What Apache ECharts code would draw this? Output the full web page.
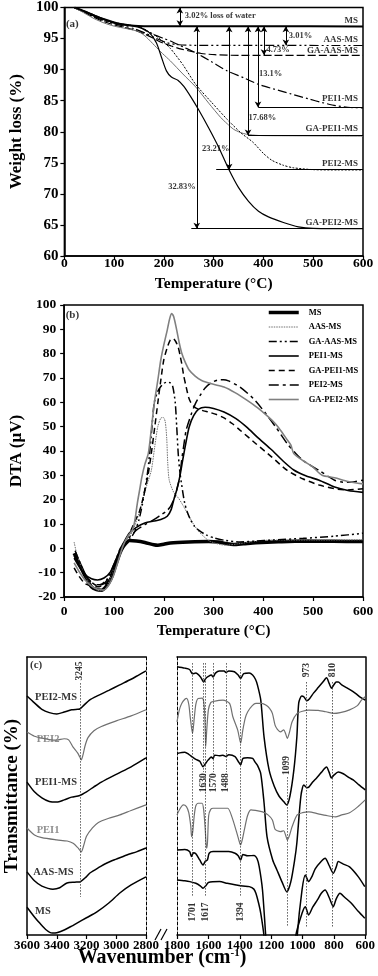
<!DOCTYPE html>
<html>
<head>
<meta charset="utf-8">
<script src="https://cdn.jsdelivr.net/npm/echarts@6.0.0/dist/echarts.min.js"></script>
<style>
  html, body { margin: 0; padding: 0; background: #fff; }
  #chart { width: 378px; height: 976px; }
</style>
</head>
<body>
<div id="chart"></div>
<script>
  var FONT = '"Liberation Serif", "Times New Roman", serif';

  // (a) TG curves, [temperature °C, weight %]
  var tgMS = [[20,100],[40,99.4],[60,98.7],[80,98.1],[100,97.6],[120,97.25],[140,97.05],[160,97],[250,96.98],[400,96.97],[600,96.96]];
  var tgAAS = [[20,100],[40,99.3],[60,98.5],[80,97.9],[100,97.4],[120,97],[140,96.6],[162,95.9],[185,95],[207,94.3],[230,94],[260,93.92],[350,93.9],[600,93.88]];
  var tgGAAAS = [[20,100],[40,99.2],[60,98.4],[80,97.7],[100,97.2],[120,96.8],[140,96.4],[162,95.7],[180,95],[194,94.4],[215,93.8],[235,93.3],[251,93],[275,92.6],[302,92.4],[350,92.3],[600,92.3]];
  var tgPEI1 = [[20,100],[40,99.3],[60,98.6],[80,98],[100,97.6],[125,97.2],[150,96.9],[165,96.2],[181,95.6],[200,95],[213,94.6],[240,93.6],[264,92.7],[295,91.3],[327,89.8],[360,88.7],[391,87.6],[420,86.9],[455,86.1],[490,85.3],[518,84.7],[545,84.2],[575,83.9],[600,83.85]];
  var tgGAPEI1 = [[20,100],[40,99.1],[60,98.2],[80,97.5],[100,97],[125,96.6],[150,96.1],[165,95.2],[181,93.9],[197,92.6],[213,91.4],[238,89.3],[264,87.2],[290,84.6],[314,82.3],[327,81.3],[340,80.4],[353,79.9],[366,79.6],[390,79.4],[450,79.35],[600,79.3]];
  var tgPEI2 = [[20,100],[40,99.3],[60,98.6],[80,98],[100,97.5],[125,97.2],[150,96.9],[165,96.3],[181,95.6],[197,94.6],[213,93.4],[238,90.8],[264,87.6],[295,84.8],[327,82],[355,79.8],[379,78.3],[400,76.5],[417,75.4],[440,74.6],[460,74.2],[500,73.9],[550,73.85],[600,73.85]];
  var tgGAPEI2 = [[20,100],[60,98.8],[100,97.5],[150,96.8],[170,96],[185,94.3],[195,92],[205,89.8],[215,88.8],[228,88.3],[240,87.3],[255,85.5],[270,83.5],[290,80.6],[310,77.5],[330,74],[350,71],[370,68.8],[390,67.2],[410,66.3],[440,65.4],[470,64.7],[500,64.45],[600,64.4]];

  // (a) annotations: mass-loss arrows and final levels
  var tgArrowT = [232, 445, 401, 389, 369, 331, 266];
  var tgArrowFrom = [100, 97, 97, 97, 97, 97, 97];
  var tgArrowTo = [97, 93.9, 92.3, 83.9, 79.4, 73.9, 64.4];
  var tgArrowText = ['3.02% loss of water', '3.01%', '4.73%', '13.1%', '17.68%', '23.21%', '32.83%'];
  var tgArrowTextAt = [[242, 98.6], [451, 95.5], [406, 93.2], [391, 89.4], [370, 82.2], [304, 77.3], [264, 71.2]];
  var tgArrowTextAlign = ['left', 'left', 'left', 'left', 'left', 'center', 'right'];
  var tgLevelFrom = [390, 369, 305, 255];
  var tgLevelY = [83.9, 79.4, 73.9, 64.4];
  var tgNames = ['MS', 'AAS-MS', 'GA-AAS-MS', 'PEI1-MS', 'GA-PEI1-MS', 'PEI2-MS', 'GA-PEI2-MS'];
  var tgNameY = [97.8, 94.9, 93.1, 85.3, 80.5, 74.9, 65.3];

  // (b) DTA curves, [temperature °C, µV]
  var dtaMS = [[20,-2],[30,-6],[40,-10.5],[55,-15.9],[65,-17],[75,-17.2],[85,-15.5],[95,-12],[105,-6],[112,-2],[118,0.5],[125,2.3],[131,3.2],[145,3],[162,2.4],[180,1.5],[188,1.3],[200,1.7],[213,2.2],[250,2.6],[290,2.8],[310,2.6],[325,2],[340,1.6],[360,1.9],[385,2.3],[430,2.7],[480,3],[540,2.9],[600,2.8]];
  var dtaAAS = [[20,2.6],[25,-2],[35,-8],[50,-14],[65,-17],[75,-17.5],[85,-16],[95,-11],[105,-4.5],[112,0],[120,2.5],[131,4.5],[145,11],[156,18.6],[166,26],[175,32],[182,42],[188,50],[194,53.5],[199,53.8],[203,52],[206,45],[208,35],[211,28],[220,23],[230,20.5],[239,17.5],[250,13.5],[258,10.5],[268,7.5],[277,5.5],[290,3.2],[302,2.2],[315,1.5],[327,1.3],[347,1.8],[380,2.8],[404,3.3],[450,3.4],[500,3.4],[600,3.5]];
  var dtaGAAAS = [[22,-1],[30,-5],[40,-10],[55,-14],[65,-15],[75,-14.7],[85,-13],[95,-9],[105,-4],[113,0],[122,2],[131,3.5],[142,7],[150,11.6],[157,18],[162,24],[168,32],[173,42],[178,54],[181,60],[188,64.5],[194,66.5],[200,67.8],[207,68.3],[213,68],[218,66.5],[223,60],[226,50],[229,39],[232,32],[236,26],[242,18.6],[248,14.5],[254,11.6],[262,9],[270,7.5],[285,5.5],[302,4.2],[325,3.2],[353,2.6],[385,3],[417,3.4],[480,4.1],[543,5],[600,6.2]];
  var dtaPEI1 = [[20,-4],[30,-7.5],[40,-10.5],[55,-12.5],[67,-13],[80,-12.2],[93,-9.7],[103,-5],[112,-1],[120,2.5],[131,6.3],[145,8.6],[162,10.4],[180,11.2],[194,11.8],[207,13.2],[215,16],[220,19.9],[226,24],[232,29.3],[238,36.3],[245,44],[251,49.9],[260,54.5],[270,57.2],[283,58],[300,57.5],[321,56],[345,53.3],[366,49.9],[390,45.3],[417,40.4],[440,35.8],[461,32.2],[485,29.8],[512,28],[543,25.2],[570,23.8],[600,23]];
  var dtaGAPEI1 = [[20,-8],[30,-11.5],[42,-14.5],[55,-15.5],[67,-15.8],[78,-15.2],[86,-14],[93,-11.5],[99,-7.6],[108,-3],[118,1.5],[131,6],[143,11.6],[150,14.5],[156,18.6],[162,24],[168,29.6],[175,39],[182,50],[188,59.7],[194,69],[200,77.4],[207,82.5],[213,85.6],[219,86.2],[224,85],[229,82.7],[233,79],[236,76],[240,71],[245,66.3],[250,62],[255,59.7],[264,57.7],[280,56.5],[290,56],[306,55],[322,53.5],[338,51.2],[353,48.6],[385,43],[417,37.5],[448,32],[480,28.5],[512,26],[543,24.5],[570,24],[600,24.5]];
  var dtaPEI2 = [[20,-3],[30,-7],[40,-10.5],[55,-14],[67,-15.3],[80,-14.5],[93,-11],[103,-6],[112,-1.5],[120,2],[131,4.5],[145,7.5],[162,9.7],[180,11.8],[194,13.7],[205,15.2],[213,17],[220,20],[226,24],[232,29.3],[236,36.3],[240,42],[245,48.6],[255,55],[264,59.7],[275,63.5],[283,65.9],[295,68],[309,69.2],[320,69.3],[330,68.8],[353,66.3],[380,61.5],[404,55.6],[425,49.8],[448,43],[465,39],[480,36],[497,33.8],[512,32],[530,29.6],[543,28],[560,27.2],[580,27.3],[600,28]];
  var dtaGAPEI2 = [[20,-6],[30,-9.5],[42,-13],[55,-15.5],[67,-16.8],[80,-17.1],[90,-15],[99,-11.3],[108,-5.5],[118,0.9],[128,5],[137,7.5],[142,11.5],[147,18.6],[152,24.5],[156,29.3],[162,34.5],[169,39],[175,49],[181,59.7],[188,69],[194,77.4],[200,83.5],[207,89.7],[212,94.5],[216,96.5],[220,95.2],[226,89.7],[231,84.5],[236,80.3],[243,76.5],[251,73.3],[263,70.8],[276,69],[298,67.5],[321,66.3],[343,64],[366,61],[388,57.8],[410,54],[425,51],[438,47.5],[448,44.5],[455,42.5],[461,39],[480,36],[499,33.5],[518,30],[543,29],[570,27.5],[600,26.5]];
  var dtaNames = ['MS', 'AAS-MS', 'GA-AAS-MS', 'PEI1-MS', 'GA-PEI1-MS', 'PEI2-MS', 'GA-PEI2-MS'];

  // (c) FTIR, [wavenumber cm-1, transmittance (offset, a.u.)] — 3600-2800 part
  var irPEI2MSHigh = [[3600,86],[3550,83.5],[3500,81.2],[3450,80],[3400,79.5],[3350,80.2],[3300,81],[3260,81.2],[3245,81.3],[3220,82.5],[3180,84.5],[3120,86.2],[3050,88],[2980,89.9],[2900,92],[2850,93.5],[2800,95]];
  var irPEI2High = [[3600,73],[3550,71.5],[3500,70.8],[3450,70.3],[3400,70.1],[3350,70.6],[3320,70.2],[3290,67.6],[3260,65.5],[3245,64],[3235,63],[3225,64.5],[3210,68],[3190,71],[3150,73.5],[3100,75],[3000,77],[2900,78.8],[2800,81]];
  var irPEI1MSHigh = [[3600,55],[3550,51.5],[3500,49.3],[3450,48],[3400,47.8],[3350,48.6],[3300,49.6],[3245,50.2],[3200,51.5],[3150,53.3],[3100,55],[3000,57.8],[2900,60.5],[2800,63.7]];
  var irPEI1High = [[3600,38.5],[3550,36],[3500,35],[3400,34.2],[3330,33.8],[3290,33],[3260,31.5],[3245,30.5],[3235,29.9],[3220,32],[3200,35.5],[3160,38.5],[3120,40.5],[3050,42],[2976,43.2],[2900,44.8],[2800,46.8]];
  var irAASMSHigh = [[3600,22.7],[3550,19.5],[3500,17.6],[3426,16.5],[3380,17],[3331,18.7],[3280,19],[3245,19.1],[3200,21],[3177,22.3],[3120,24.2],[3063,25.9],[3000,27.3],[2929,28.8],[2860,30],[2800,31.3]];
  var irMSHigh = [[3600,10],[3550,6.5],[3513,4.2],[3470,1.8],[3430,0.7],[3400,0.8],[3350,1.8],[3300,3.2],[3264,4.3],[3200,6.2],[3130,8.3],[3050,11.5],[2976,15.1],[2900,18],[2800,20.9]];

  // (c) FTIR — 1800-600 part
  var irPEI2MSLow = [[1800,96.5],[1750,96],[1720,95.5],[1701,94],[1680,94.2],[1650,92.8],[1630,91],[1617,92.3],[1600,93],[1581,93.5],[1570,92.8],[1555,94.2],[1530,95],[1500,95],[1488,94.4],[1470,95],[1434,94.7],[1410,93.5],[1394,92.3],[1375,94],[1340,94.2],[1318,93.5],[1300,92],[1287,89.9],[1266,84.5],[1245,71.2],[1213,59.4],[1180,53.5],[1150,50],[1120,48],[1100,46.8],[1080,50],[1055,59.4],[1036,71.2],[1024,83.5],[1005,86],[990,85.6],[973,84.3],[955,85],[930,87],[900,89],[870,91],[847,92.5],[830,90.5],[815,88.8],[800,90],[785,91],[772,91],[750,90],[720,89],[690,88],[660,86.8],[630,85.5],[600,84.5]];
  var irPEI2Low = [[1800,76.7],[1785,81],[1770,83.3],[1750,84.8],[1739,85.1],[1725,83],[1715,78],[1701,72.5],[1690,78],[1680,83],[1665,85.1],[1640,85.2],[1630,84],[1622,78],[1617,67.7],[1610,74],[1600,81],[1585,83.6],[1570,84],[1507,84.5],[1465,83.3],[1444,78.5],[1413,73.7],[1394,69],[1381,73.5],[1365,78],[1349,80.3],[1320,82.5],[1297,83.3],[1260,83.3],[1234,82.7],[1210,81.5],[1192,79.7],[1175,75.5],[1160,74],[1140,73.1],[1120,73.8],[1108,72.5],[1097,70.7],[1085,72.5],[1066,76.7],[1034,79.7],[1000,80.5],[960,80.9],[900,80.8],[850,80.3],[800,79.7],[760,80],[700,81],[650,82.5],[624,84.5],[600,85.7]];
  var irPEI1MSLow = [[1800,65.3],[1750,65.7],[1725,65],[1701,64],[1680,63.2],[1655,62.5],[1634,60.5],[1617,61.8],[1600,63],[1581,64],[1570,63.5],[1560,64.7],[1530,64.5],[1507,64.7],[1488,64.2],[1470,64.8],[1430,64.2],[1410,62.5],[1394,61.2],[1380,63.5],[1350,63.8],[1318,63.5],[1300,62],[1287,61],[1266,58],[1245,47.5],[1226,35.3],[1190,27],[1163,23.4],[1130,19],[1100,15.5],[1075,19],[1050,27],[1036,33.1],[1011,49.6],[992,54],[973,53],[960,53.2],[935,55],[910,56.5],[880,58.5],[847,60.4],[830,58.5],[816,56.5],[800,57.5],[772,58.6],[740,58],[700,56.5],[677,55.8],[640,54],[600,52.2]];
  var irPEI1Low = [[1800,43.2],[1780,45.5],[1760,46.8],[1740,46.2],[1725,44],[1712,39],[1707,35.4],[1700,37],[1690,43],[1680,46.5],[1665,47.4],[1640,47.4],[1630,45],[1620,38],[1612,31.2],[1606,33],[1598,43],[1585,45.2],[1570,45.6],[1500,45.6],[1476,45.6],[1450,42.5],[1420,37],[1400,33],[1394,32.4],[1385,34],[1370,38],[1350,43],[1328,45],[1300,44.8],[1254,44.3],[1220,43.2],[1192,41.4],[1175,38],[1160,37.5],[1140,37.2],[1120,37.5],[1108,36],[1097,34.2],[1085,35.5],[1066,39],[1034,43.2],[1000,44],[960,44.3],[900,43.6],[850,43],[791,42.5],[750,43.2],[700,44],[650,46],[600,48.6]];
  var irAASMSLow = [[1800,30.6],[1750,30.8],[1720,30],[1707,28.2],[1695,29.6],[1680,29.2],[1655,27],[1634,25.2],[1620,26.5],[1606,27],[1595,29.4],[1570,30],[1529,30],[1470,30],[1430,29.4],[1410,28.5],[1394,27],[1380,29],[1350,28.5],[1308,28.6],[1290,27.5],[1276,24.6],[1255,16.2],[1234,-0.6],[1200,-25],[1100,-40],[1050,-20],[1034,-0.6],[1003,16.2],[982,21.6],[961,19.2],[940,21],[919,23.8],[880,26.5],[856,27.6],[830,25],[804,22.2],[785,24.5],[772,26.4],[740,25.5],[700,24.5],[645,21],[603,17.4]];
  var irMSLow = [[1800,19.8],[1750,19.5],[1718,19.2],[1680,18.6],[1650,17.6],[1634,16.8],[1615,17.8],[1600,18.9],[1529,19.2],[1480,18.6],[1423,18],[1380,17.6],[1339,17.4],[1310,16.5],[1297,15],[1280,11.5],[1266,7.8],[1245,-0.6],[1200,-30],[1100,-45],[1060,-15],[1044,-0.6],[1003,7.8],[982,10.2],[961,7.2],[935,10],[905,12.6],[880,15],[856,16.2],[830,13.5],[804,10.2],[785,13],[761,15],[730,13.5],[690,11.5],[645,8.5],[603,6]];

  // (c) band markers: wavenumber, line from / to, label height
  var irBandsHigh = [3245];
  var irBandsHighSpan = [[90.6, 13.7]];
  var irBandsHighLabelY = [95];
  var irBandsLow = [1701, 1630, 1617, 1570, 1488, 1394, 1099, 973, 810];
  var irBandsLowSpan = [[97.8, 13.7], [97.8, 58.6], [97.8, 13.7], [97.8, 58.6], [97.8, 58.6], [97.8, 13.7], [56.8, 2.9], [91, 2.9], [91, 2.9]];
  var irBandsLowLabelY = [8.3, 54.8, 8.3, 54.8, 54.8, 8.3, 61, 95.3, 95.3];
  var irNames = ['PEI2-MS', 'PEI2', 'PEI1-MS', 'PEI1', 'AAS-MS', 'MS', '(c)'];
  var irNameX = [3546, 3535, 3546, 3535, 3558, 3546, 3580];
  var irNameY = [85.5, 70.4, 54.8, 37.8, 22.4, 8.4, 97.1];
  var irNameGrey = [false, true, false, true, false, false, false];

  var BLACK = '#000';
  var GREY = '#707070';

  function curve(name, data, xi, yi, color, width, dash) {
    return {
      name: name, type: 'line', xAxisIndex: xi, yAxisIndex: yi,
      data: data, symbol: 'none', smooth: 0.25, silent: true,
      lineStyle: { color: color, width: width, type: dash || 'solid' },
      itemStyle: { color: color },
      z: 3
    };
  }

  function texts(xi, yi, items) {
    return {
      type: 'scatter', xAxisIndex: xi, yAxisIndex: yi, silent: true,
      symbol: 'rect', symbolSize: 1, itemStyle: { color: 'transparent' },
      label: { show: true, position: 'inside', color: BLACK, fontFamily: FONT, fontWeight: 'bold', fontSize: 9, verticalAlign: 'middle' },
      data: items, z: 5
    };
  }

  function plain(v) { return String(v); }

  function axisBase(extra) {
    var a = {
      type: 'value',
      axisLine: { show: true, onZero: false, lineStyle: { color: BLACK, width: 1.5 } },
      axisTick: { show: true, length: 4, lineStyle: { color: BLACK, width: 1.2 } },
      axisLabel: { color: BLACK, fontFamily: FONT, fontWeight: 'bold', fontSize: 13.5, formatter: plain },
      splitLine: { show: false },
      nameTextStyle: { color: BLACK, fontFamily: FONT, fontWeight: 'bold', fontSize: 16 }
    };
    for (var k in extra) a[k] = extra[k];
    return a;
  }
  var hiddenAxis = function (extra) {
    var a = axisBase(extra);
    a.axisLabel = { show: false };
    a.axisTick = { show: false };
    return a;
  };
  function lab(size, margin) {
    return { color: BLACK, fontFamily: FONT, fontWeight: 'bold', fontSize: size, margin: margin, formatter: plain };
  }
  function title(size) {
    return { color: BLACK, fontFamily: FONT, fontWeight: 'bold', fontSize: size };
  }

  var series = [];

  // (a)
  series.push(curve('tg MS', tgMS, 0, 0, BLACK, 2));
  series.push(curve('tg AAS-MS', tgAAS, 0, 0, BLACK, 1.2, [9, 3, 2, 3, 2, 3]));
  series.push(curve('tg GA-AAS-MS', tgGAAAS, 0, 0, BLACK, 1.2, [8, 3]));
  series.push(curve('tg PEI1-MS', tgPEI1, 0, 0, BLACK, 1.2, [9, 3, 2, 3]));
  series.push(curve('tg GA-PEI1-MS', tgGAPEI1, 0, 0, GREY, 1));
  series.push(curve('tg PEI2-MS', tgPEI2, 0, 0, BLACK, 1, [2, 1.5]));
  series.push(curve('tg GA-PEI2-MS', tgGAPEI2, 0, 0, BLACK, 1.2));

  var tgTextItems = tgArrowText.map(function (t, i) {
    return { value: tgArrowTextAt[i], label: { formatter: t, align: tgArrowTextAlign[i], fontSize: 8.5 } };
  });
  tgNames.forEach(function (n, i) {
    tgTextItems.push({ value: [590, tgNameY[i]], label: { formatter: n, align: 'right', fontSize: 9 } });
  });
  tgTextItems.push({ value: [3, 97.3], label: { formatter: '(a)', align: 'left', fontSize: 11 } });
  var tgAnno = texts(0, 0, tgTextItems);
  tgAnno.markLine = {
    silent: true, animation: false, symbol: ['arrow', 'arrow'], symbolSize: [5, 6],
    label: { show: false }, lineStyle: { color: BLACK, width: 1, type: 'solid' },
    data: tgArrowT.map(function (t, i) {
      return [{ coord: [t, tgArrowFrom[i]] }, { coord: [t, tgArrowTo[i]] }];
    }).concat(tgLevelFrom.map(function (t, i) {
      return [{ coord: [t, tgLevelY[i]], symbol: 'none' }, { coord: [600, tgLevelY[i]], symbol: 'none' }];
    }))
  };
  series.push(tgAnno);

  // (b)
  series.push(curve('MS', dtaMS, 1, 1, BLACK, 3.5));
  series.push(curve('AAS-MS', dtaAAS, 1, 1, GREY, 1, [1.5, 1]));
  series.push(curve('GA-AAS-MS', dtaGAAAS, 1, 1, BLACK, 1.5, [8, 3, 2, 3, 2, 3]));
  series.push(curve('PEI1-MS', dtaPEI1, 1, 1, BLACK, 1.6));
  series.push(curve('GA-PEI1-MS', dtaGAPEI1, 1, 1, BLACK, 1.5, [6, 4]));
  series.push(curve('PEI2-MS', dtaPEI2, 1, 1, BLACK, 1.5, [10, 4, 3, 4]));
  series.push(curve('GA-PEI2-MS', dtaGAPEI2, 1, 1, '#808080', 1.6));
  series.push(texts(1, 1, [{ value: [3, 95.9], label: { formatter: '(b)', align: 'left', fontSize: 11 } }]));

  // (c) left block
  series.push(curve('ir PEI2-MS hi', irPEI2MSHigh, 2, 2, BLACK, 1.5));
  series.push(curve('ir PEI2 hi', irPEI2High, 2, 2, GREY, 1.2));
  series.push(curve('ir PEI1-MS hi', irPEI1MSHigh, 2, 2, BLACK, 1.5));
  series.push(curve('ir PEI1 hi', irPEI1High, 2, 2, GREY, 1.2));
  series.push(curve('ir AAS-MS hi', irAASMSHigh, 2, 2, BLACK, 1.5));
  series.push(curve('ir MS hi', irMSHigh, 2, 2, BLACK, 1.5));
  // (c) right block
  series.push(curve('ir PEI2-MS lo', irPEI2MSLow, 3, 4, BLACK, 1.5));
  series.push(curve('ir PEI2 lo', irPEI2Low, 3, 4, GREY, 1.2));
  series.push(curve('ir PEI1-MS lo', irPEI1MSLow, 3, 4, BLACK, 1.5));
  series.push(curve('ir PEI1 lo', irPEI1Low, 3, 4, GREY, 1.2));
  series.push(curve('ir AAS-MS lo', irAASMSLow, 3, 4, BLACK, 1.5));
  series.push(curve('ir MS lo', irMSLow, 3, 4, BLACK, 1.5));

  function bandMarks(xi, yi, bands, spans, labelY) {
    var s = texts(xi, yi, bands.map(function (b, i) {
      return { value: [b, labelY[i]], label: { formatter: String(b), rotate: 90, align: 'center', fontSize: 9.5 } };
    }));
    s.markLine = {
      silent: true, animation: false, symbol: 'none', label: { show: false },
      lineStyle: { color: '#333', width: 0.8, type: [1.5, 1.5] },
      data: bands.map(function (b, i) {
        return [{ coord: [b, spans[i][0]] }, { coord: [b, spans[i][1]] }];
      })
    };
    return s;
  }
  series.push(bandMarks(2, 2, irBandsHigh, irBandsHighSpan, irBandsHighLabelY));
  series.push(bandMarks(3, 4, irBandsLow, irBandsLowSpan, irBandsLowLabelY));
  series.push(texts(2, 2, irNames.map(function (n, i) {
    return { value: [irNameX[i], irNameY[i]], label: { formatter: n, align: 'left', fontSize: n === '(c)' ? 11 : 10.5, color: irNameGrey[i] ? GREY : BLACK } };
  })));

  var option = {
    animation: false,
    backgroundColor: '#fff',
    grid: [
      { left: 48, top: 6, width: 315, height: 250, show: true, borderColor: BLACK, borderWidth: 1.5 },
      { left: 48, top: 305, width: 315, height: 292, show: true, borderColor: BLACK, borderWidth: 1.5 },
      { left: 27, top: 657, width: 119, height: 278 },
      { left: 177, top: 657, width: 190, height: 278 }
    ],
    legend: {
      data: dtaNames, orient: 'vertical', left: 267, top: 308, padding: 0,
      itemWidth: 30, itemHeight: 10, itemGap: 5.5, selectedMode: false,
      lineStyle: { width: 'inherit' },
      itemStyle: { opacity: 0, color: 'transparent', borderWidth: 0 },
      textStyle: { fontFamily: FONT, fontWeight: 'bold', fontSize: 8.5, color: BLACK, padding: [0, 0, 0, 5] }
    },
    xAxis: [
      axisBase({ gridIndex: 0, min: 0, max: 600, interval: 100, name: 'Temperature (°C)', nameLocation: 'middle', nameGap: 20,
        axisLabel: lab(13.5, 1), nameTextStyle: title(15.5) }),
      axisBase({ gridIndex: 1, min: 0, max: 600, interval: 100, name: 'Temperature (°C)', nameLocation: 'middle', nameGap: 27,
        axisLabel: lab(13.5, 8), nameTextStyle: title(15) }),
      axisBase({ gridIndex: 2, min: 2800, max: 3600, interval: 200, inverse: true, axisLabel: lab(13, 4) }),
      axisBase({ gridIndex: 3, min: 600, max: 1800, interval: 200, inverse: true, axisLabel: lab(13, 4) }),
      hiddenAxis({ gridIndex: 2, position: 'top', min: 2800, max: 3600, inverse: true }),
      hiddenAxis({ gridIndex: 3, position: 'top', min: 600, max: 1800, inverse: true })
    ],
    yAxis: [
      axisBase({ gridIndex: 0, min: 60, max: 100, interval: 5, name: 'Weight loss (%)', nameLocation: 'middle', nameGap: 31,
        axisLabel: lab(15, 6), nameTextStyle: title(17) }),
      axisBase({ gridIndex: 1, min: -20, max: 100, interval: 10, name: 'DTA (µV)', nameLocation: 'middle', nameGap: 31,
        axisLabel: lab(13.5, 8), nameTextStyle: title(17) }),
      hiddenAxis({ gridIndex: 2, min: 0, max: 100, name: 'Transmittance (%)', nameLocation: 'middle', nameGap: 5,
        nameTextStyle: title(19) }),
      hiddenAxis({ gridIndex: 2, position: 'right', min: 0, max: 100,
        axisLine: { show: true, lineStyle: { color: BLACK, width: 1, type: [3, 2] } } }),
      hiddenAxis({ gridIndex: 3, min: 0, max: 100,
        axisLine: { show: true, lineStyle: { color: BLACK, width: 1, type: [3, 2] } } }),
      hiddenAxis({ gridIndex: 3, position: 'right', min: 0, max: 100 })
    ],
    graphic: [
      {
        type: 'text', x: 162, y: 958, silent: true,
        style: {
          text: '{m|Wavenumber (cm}{s|-1}{m|)}', align: 'center', verticalAlign: 'middle',
          rich: {
            m: { fontFamily: FONT, fontWeight: 'bold', fontSize: 20, fill: BLACK, lineHeight: 21 },
            s: { fontFamily: FONT, fontWeight: 'bold', fontSize: 11, fill: BLACK, verticalAlign: 'top', lineHeight: 21 }
          }
        }
      },
      { type: 'line', silent: true, shape: { x1: 155, y1: 940, x2: 161, y2: 929 }, style: { stroke: BLACK, lineWidth: 1.2 } },
      { type: 'line', silent: true, shape: { x1: 161, y1: 940, x2: 167, y2: 929 }, style: { stroke: BLACK, lineWidth: 1.2 } }
    ],
    series: series
  };

  var chart = echarts.init(document.getElementById('chart'));
  chart.setOption(option);
</script>
</body>
</html>
